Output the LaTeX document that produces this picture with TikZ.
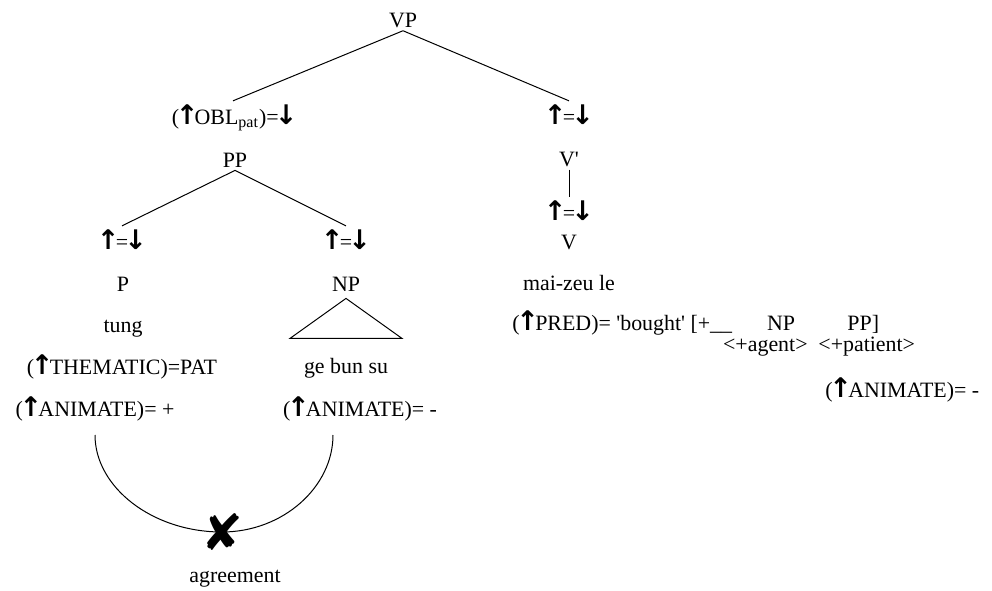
\documentclass[tikz,border=0pt,11pt]{standalone}
\usepackage{fontspec}
\setmainfont{Liberation Serif}
\newfontfamily\symfont{DejaVu Sans}
\newcommand{\upar}{{\symfont\bfseries\fontsize{13.5}{13.5}\selectfont\kern-0.12em↑\kern-0.14em}}
\newcommand{\dnar}{{\symfont\bfseries\fontsize{13.5}{13.5}\selectfont\kern-0.14em↓\kern-0.12em}}
\newcommand{\eqar}{\upar=\dnar}
\tikzset{
	lbl/.style={anchor=base, inner sep=1.5pt},
	branch/.style={draw=black, line width=0.5pt}
}

\begin{document}
\begin{tikzpicture}[x=0.5pt,y=-0.5pt]
	\useasboundingbox (0,0) rectangle (992,590);
	% upper tree
	\node[lbl] (vp) at (403,27) {VP};
	\node[lbl] (obl) at (233,124) {(\upar OBL\textsubscript{pat})=\dnar};
	\node[lbl] (vpup) at (569,124) {\eqar};
	\node[lbl] (pp) at (235,167) {PP};
	\node[lbl] (vbar) at (569,166) {V\textquotesingle};
	\node[lbl] (vup) at (569,220) {\eqar};
	\node[lbl] (v) at (569,249) {V};
	\draw[branch] (vp.south) -- (obl.north);
	\draw[branch] (vp.south) -- (vpup.north);
	\draw[branch] (vbar.south) -- (vup.north);
	% PP daughters
	\node[lbl] (pup) at (122,249) {\eqar};
	\node[lbl] (npup) at (346,249) {\eqar};
	\draw[branch] (pp.south) -- (pup.north);
	\draw[branch] (pp.south) -- (npup.north);
	\node[lbl] (p) at (123,291) {P};
	\node[lbl] (np) at (346,291) {NP};
	\draw[branch] ([yshift=-2pt]np.south) -- ++(-56,40) -- ++(112,0) -- cycle;
	\node[lbl] (verb) at (569,290) {mai-zeu le};
	\node[lbl] (tung) at (123,332) {tung};
	\node[lbl] (them) at (122,374) {(\upar THEMATIC)=PAT};
	\node[lbl] (gebun) at (346,373) {ge bun su};
	\node[lbl] (anl) at (95,416) {(\upar ANIMATE)= +};
	\node[lbl] (anm) at (360,416) {(\upar ANIMATE)= -};
	% lexical entry of the verb
	\node[lbl, inner sep=0pt, anchor=base west] (pred) at (512,330) {(\upar PRED)= \textquotesingle bought\textquotesingle\ [+\_\_};
	\node[lbl, inner sep=0pt] (prednp) at (781,330) {NP};
	\node[lbl, inner sep=0pt, anchor=base west] (predpp) at (847,330) {PP]};
	\node[lbl, inner sep=0pt, anchor=base east] (agent) at (808,351) {<+agent>};
	\node[lbl, inner sep=0pt, anchor=base west] (patient) at (818,351) {<+patient>};
	\node[lbl, anchor=base west] (anr) at (822,397) {(\upar ANIMATE)= -};
	% failed agreement
	\node[inner sep=0pt, font=\symfont\fontsize{25}{25}\selectfont] (cross) at (222,532) {✘};
	\coordinate (agl) at (95,435);
	\coordinate (agr) at (333,435);
	\draw[branch] (agl) .. controls +(0,52) and +(-70,0) .. (cross.center)
		.. controls +(61,0) and +(0,52) .. (agr);
	\node[lbl] (agree) at (235,582) {agreement};
\end{tikzpicture}
\end{document}
